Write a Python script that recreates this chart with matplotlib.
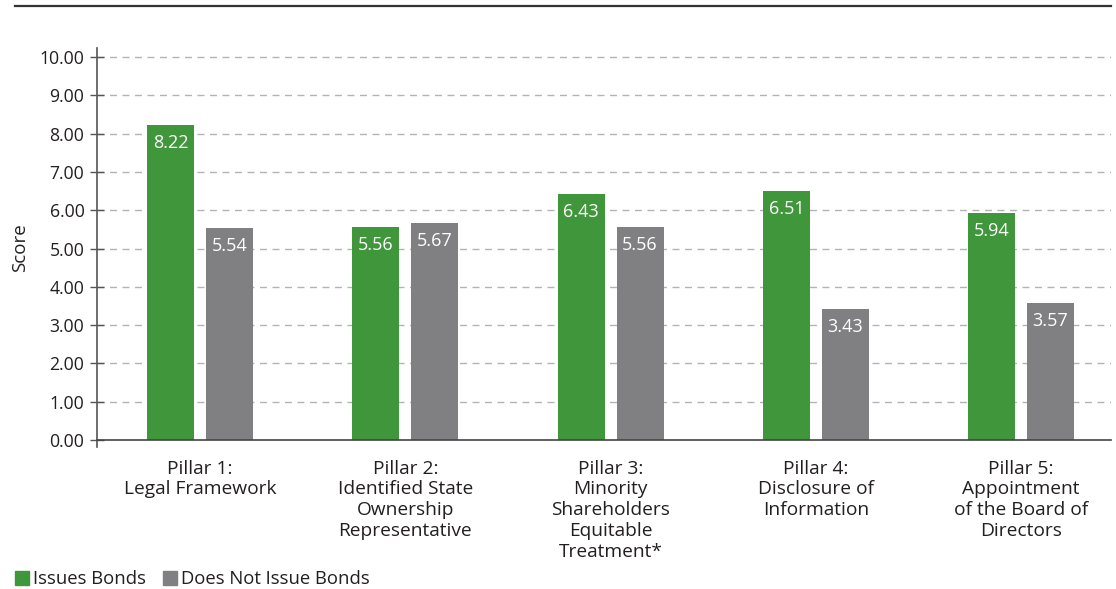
import matplotlib
matplotlib.use("Agg")
import matplotlib.pyplot as plt
from matplotlib.patches import Rectangle
from matplotlib.lines import Line2D
import numpy as np

categories = ["Pillar 1:\nLegal Framework",
              "Pillar 2:\nIdentified State\nOwnership\nRepresentative",
              "Pillar 3:\nMinority\nShareholders\nEquitable\nTreatment*",
              "Pillar 4:\nDisclosure of\nInformation",
              "Pillar 5:\nAppointment\nof the Board of\nDirectors"]
issues_bonds = [8.22, 5.56, 6.43, 6.51, 5.94]
no_bonds = [5.54, 5.67, 5.56, 3.43, 3.57]
series_names = ["Issues Bonds", "Does Not Issue Bonds"]
yticks = [0, 1, 2, 3, 4, 5, 6, 7, 8, 9, 10]

GREEN = "#3f963b"
GRAY = "#808083"
TEXT = "#231f20"

plt.rcParams['font.family'] = ['Open Sans', 'DejaVu Sans']

fig = plt.figure(figsize=(11.16, 5.89), dpi=100)
ax = fig.add_axes([97/1116, 142/589, (1111-97)/1116, (447-48)/589])

x = np.arange(len(categories))
w = 0.229
off = 0.1437
b1 = ax.bar(x - off, issues_bonds, width=w, color=GREEN, zorder=3)
b2 = ax.bar(x + off, no_bonds, width=w, color=GRAY, zorder=3)

for bars, vals in ((b1, issues_bonds), (b2, no_bonds)):
    for r, v in zip(bars, vals):
        ax.annotate(f"{v:.2f}", (r.get_x() + r.get_width()/2, v),
                    xytext=(0, -6.5), textcoords="offset points",
                    ha="center", va="top", color="white", fontsize=13, zorder=4)

ax.set_xlim(-0.502, 4.438)
ax.set_ylim(-0.18, 10.235)
ax.set_yticks(yticks)
ax.set_yticklabels([f"{t:.2f}" for t in yticks])
ax.tick_params(axis='y', direction='inout', length=10, width=1, color="#555555",
               pad=4, labelsize=12.7, labelcolor=TEXT)
ax.set_xticks(x)
ax.set_xticklabels(categories)
ax.tick_params(axis='x', length=0, pad=14, labelsize=13.8, labelcolor=TEXT)
for lbl in ax.get_xticklabels():
    lbl.set_fontsize(13.8)
    lbl.set_linespacing(0.97)
    lbl.set_verticalalignment("top")

for sp in ("top", "right"):
    ax.spines[sp].set_visible(False)
ax.spines["left"].set_color("#555555")
ax.spines["left"].set_linewidth(1.2)
ax.spines["bottom"].set_position(("data", 0))
ax.spines["bottom"].set_color("#444444")
ax.spines["bottom"].set_linewidth(1.2)
ax.spines["bottom"].set_zorder(5)

for t in yticks[1:]:
    ax.axhline(t, color="#b3b3b3", lw=1, ls=(0, (5, 4)), zorder=1)

ax.set_ylabel("Score", fontsize=13.5, color=TEXT)
ax.yaxis.set_label_coords(-0.067, 0.5)

# top rule
fig.add_artist(Line2D([15/1116, 1111/1116], [1 - 6/589, 1 - 6/589],
                      color="#333333", lw=1.6))

# legend
handles = [Rectangle((0, 0), 1, 1, color=GREEN), Rectangle((0, 0), 1, 1, color=GRAY)]
leg = fig.legend(handles, series_names, loc="lower left",
                 bbox_to_anchor=(12/1116, -2/589), frameon=False, ncol=2,
                 fontsize=13.3, handlelength=0.75, handleheight=0.75,
                 handletextpad=0.25, columnspacing=0.9, borderaxespad=0,
                 borderpad=0.15)
for t in leg.get_texts():
    t.set_color(TEXT)

fig.savefig("out.png", dpi=100)
